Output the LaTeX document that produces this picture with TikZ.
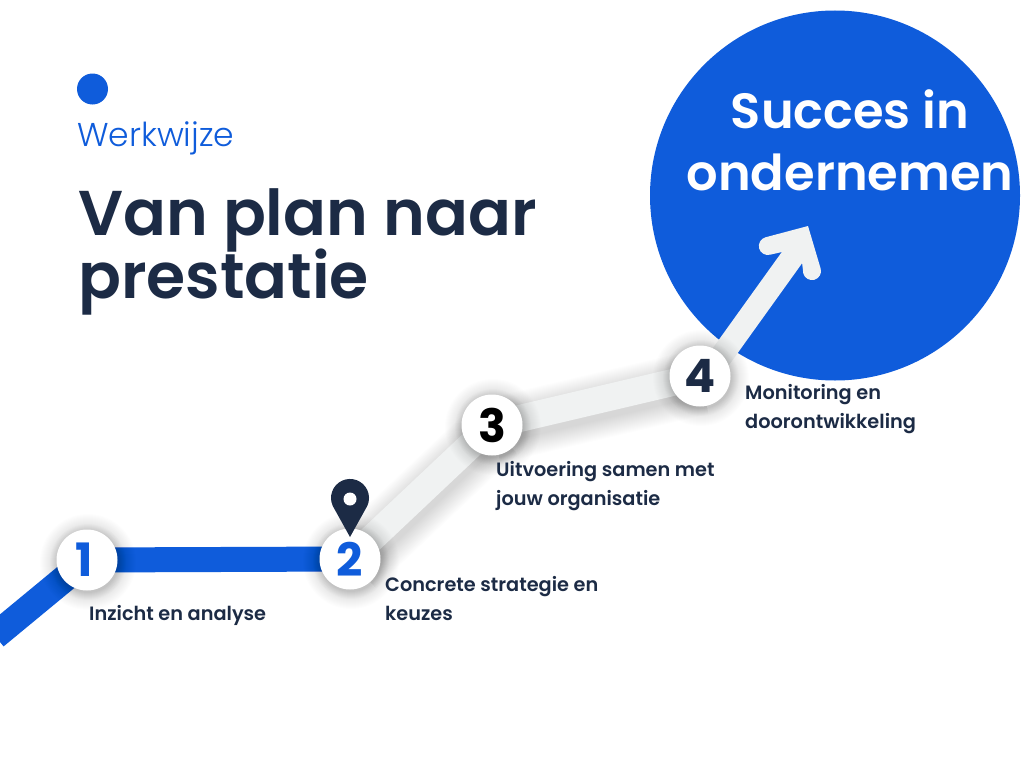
\documentclass[tikz,border=0pt]{standalone}
\usepackage{fontspec}
\setmainfont{Poppins}
\newfontfamily\lightfont[UprightFont={* Light}]{Poppins}
\newfontfamily\medfont[UprightFont={* Medium}]{Poppins}
\newfontfamily\semifont[UprightFont={* SemiBold}]{Poppins}
\newfontfamily\boldfont[UprightFont={* Bold}]{Poppins}
\definecolor{brandblue}{HTML}{0F5CDB}
\definecolor{navy}{HTML}{1C2B45}
\definecolor{track}{HTML}{F0F2F2}
\pgfdeclarelayer{base}\pgfdeclarelayer{tracks}
\pgfsetlayers{base,tracks,main}
\tikzset{
  x=1pt,y=1pt,
  stepnode/.style={circle,fill=white,minimum size=61pt,inner sep=0pt,font=\boldfont\fontsize{46}{46}\selectfont},
  steplabel/.style={anchor=north west,inner sep=0pt,align=left,text=navy,font=\semifont\fontsize{19.3}{29}\selectfont},
  bluetrack/.style={draw=brandblue,line width=25pt},
  greytrack/.style={draw=track,line width=27pt},
  softshadow/.style={draw=black,opacity=0.009}
}
\begin{document}
\begin{tikzpicture}
\clip (0,-768) rectangle (1024,0);
\begin{pgfonlayer}{base}
\fill[white] (0,-768) rectangle (1024,0);
\node[circle,fill=brandblue,minimum size=370pt,inner sep=0pt] (goal) at (835,-195.5) {};
\end{pgfonlayer}
\node[text=white,align=center,inner sep=0pt,font=\semifont\fontsize{49.5}{62}\selectfont] (goaltext) at (850,-140) {Succes in\\ondernemen};
\node[circle,fill=brandblue,minimum size=31pt,inner sep=0pt] (dot) at (92.5,-89) {};
\node[anchor=base west,inner sep=0pt,text=brandblue,font=\lightfont\fontsize{33}{33}\selectfont] (kicker) at (77,-146) {Werkwijze};
\node[anchor=base west,inner sep=0pt,text=navy,font=\semifont\fontsize{63.3}{63}\selectfont] (title1) at (78,-235) {Van plan naar};
\node[anchor=base west,inner sep=0pt,text=navy,font=\semifont\fontsize{63.3}{63}\selectfont] (title2) at (78,-298) {prestatie};

\node[stepnode,text=brandblue] (n1) at (87,-560) {\kern-6pt 1};
\node[stepnode,text=brandblue] (n2) at (350,-559) {2};
\node[stepnode,text=black] (n3) at (492,-425) {3};
\node[stepnode,text=navy] (n4) at (700,-376) {4};
\coordinate (entry) at (-5,-636);
\coordinate (armstart) at (707,-376);
\coordinate (armend) at (801,-245);

\begin{pgfonlayer}{tracks}
\draw[draw=brandblue,line width=27pt] (entry) -- (n1.center);
\draw[bluetrack] (n1.center) -- (n2.center);
\foreach \w in {28,30,...,66}{
  \draw[softshadow,line width=\w pt,transform canvas={xshift=3pt,yshift=-5pt}] (n2.center) -- (n3.center);
  \draw[softshadow,line width=\w pt,transform canvas={xshift=1pt,yshift=-6pt}] (n3.center) -- (n4.center);
}
\draw[greytrack] (n2.center) -- (n3.center);
\draw[greytrack] (n3.center) -- (n4.center);
\draw[draw=track,line width=23pt] (armstart) -- (armend);
\fill[track] (808,-226) -- (765.5,-237.3) arc[start angle=105,end angle=285,radius=9] -- (782,-252) -- (802,-262) -- (803.3,-273.4) arc[start angle=195,end angle=375,radius=9] -- cycle;
\foreach \n in {n1,n2,n3,n4}{
  \foreach \r in {31,32,...,48}{
    \fill[black,opacity=0.009] ([xshift=1pt,yshift=-2pt]\n.center) circle (\r);
  }
  \foreach \r in {31,32,...,38}{
    \fill[black,opacity=0.012] ([xshift=1pt,yshift=-2pt]\n.center) circle (\r);
  }
}
\end{pgfonlayer}

\fill[navy] (350,-537) -- (332.8,-506) arc[start angle=205,end angle=-25,radius=19] -- cycle;
\fill[white] (350,-499) circle (6.5);

\node[steplabel] (l1) at (89,-605.5) {Inzicht en analyse};
\node[steplabel] (l2) at (385,-576.5) {Concrete strategie en\\keuzes};
\node[steplabel] (l3) at (496,-461.5) {Uitvoering samen met\\jouw organisatie};
\node[steplabel] (l4) at (745,-384.5) {Monitoring en\\doorontwikkeling};
\end{tikzpicture}
\end{document}
